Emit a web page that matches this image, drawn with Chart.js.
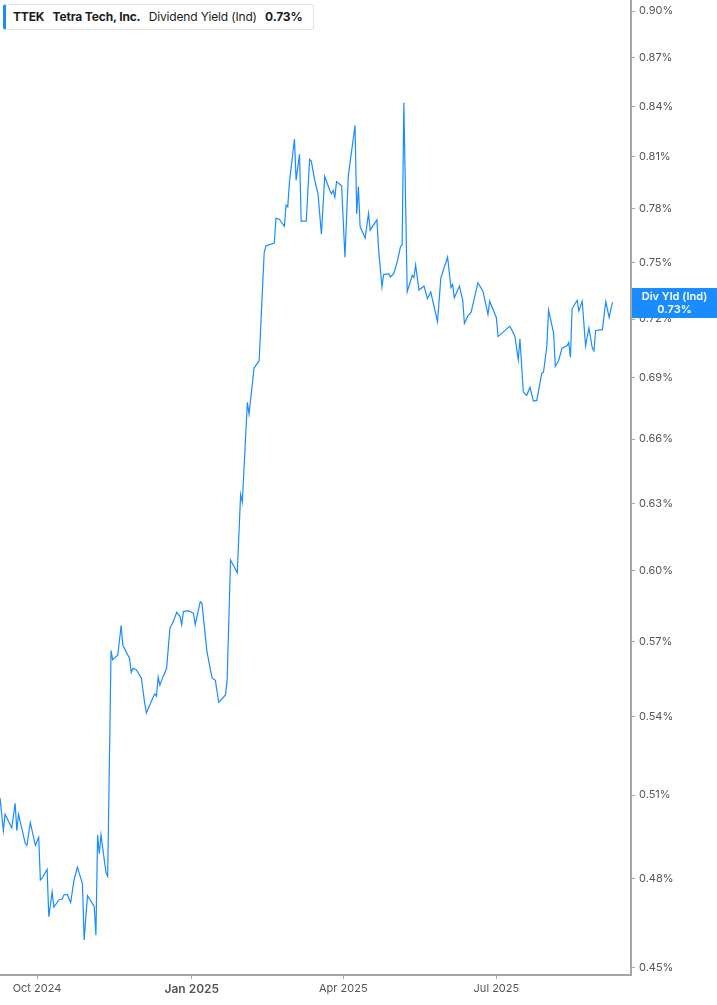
<!DOCTYPE html>
<html>
<head>
<meta charset="utf-8">
<script src="https://cdn.jsdelivr.net/npm/chart.js@4"></script>
<style>
  html, body { margin: 0; padding: 0; background: #fff; }
  #wrap { position: relative; width: 717px; height: 1005px; }
  #legend {
    position: absolute; left: 3px; top: 4px; width: 311px; height: 26px;
    border: 1px solid #e3e3e3; border-left: 3px solid #1a8cff; border-radius: 3px;
    box-sizing: border-box; background: #fff;
    font-family: Inter, "Noto Sans", sans-serif; font-size: 12px; color: #1c1c1c;
    line-height: 24px; padding-left: 7px; white-space: nowrap; letter-spacing: -0.15px;
  }
  #legend b { font-weight: 700; }
  #legend span { margin-right: 5px; }
</style>
</head>
<body>
<div id="wrap">
  <canvas id="myChart" width="717" height="1005"></canvas>
  <div id="legend"><span><b>TTEK</b></span> <span><b>Tetra Tech, Inc.</b></span> <span>Dividend Yield (Ind)</span> <b>0.73%</b></div>
</div>
<script>
const ctx = document.getElementById('myChart');

// x = days since 2024-09-09, y = dividend yield in %
const startDate = Date.UTC(2024, 8, 9);
const days = [
  0, 2, 3, 7, 9, 10, 11, 15, 16, 18, 21, 23, 24, 25, 28, 29, 31, 32, 35, 37,
  38, 40, 42, 44, 46, 49, 50, 52, 56, 57, 58, 59, 60, 63, 64, 66, 67, 70, 72, 73,
  77, 78, 79, 81, 84, 86, 87, 89, 91, 92, 93, 94, 95, 97, 99, 101, 103, 105, 107, 108,
  109, 112, 115, 116, 119, 120, 123, 126, 128, 130, 134, 135, 137, 141, 143, 144, 147, 148, 151, 154,
  157, 158, 163, 164, 166, 169, 170, 171, 172, 175, 176, 178, 179, 182, 184, 185, 187, 189, 191, 193,
  196, 197, 198, 199, 200, 203, 205, 207, 211, 212, 213, 214, 217, 219, 220, 224, 225, 227, 228, 231,
  232, 234, 236, 238, 239, 240, 242, 245, 246, 247, 249, 252, 254, 256, 260, 262, 266, 268, 269, 270,
  273, 275, 276, 278, 280, 284, 287, 290, 291, 295, 296, 303, 306, 308, 309, 311, 313, 315, 317, 319,
  322, 323, 325, 326, 329, 330, 332, 334, 337, 338, 339, 340, 343, 344, 346, 348, 350, 352, 353, 354,
  358, 360, 362, 364
];
const yieldVals = [
  0.509, 0.497, 0.503, 0.498, 0.507, 0.497, 0.503, 0.4925, 0.4918, 0.500, 0.4918, 0.4946, 0.4796, 0.4802, 0.4833, 0.4670, 0.4755, 0.4703, 0.4727, 0.4730,
  0.4745, 0.4746, 0.4718, 0.4796, 0.4841, 0.4783, 0.4592, 0.4742, 0.4705, 0.4608, 0.4955, 0.4888, 0.4955, 0.4821, 0.4809, 0.5663, 0.5625, 0.5645, 0.5767, 0.5685,
  0.5631, 0.5574, 0.5591, 0.5585, 0.5552, 0.5450, 0.5413, 0.5444, 0.5475, 0.5488, 0.5479, 0.5555, 0.5523, 0.5558, 0.5591, 0.5756, 0.5783, 0.5822, 0.5804, 0.5770,
  0.5825, 0.5829, 0.5818, 0.5770, 0.5867, 0.5860, 0.5659, 0.5552, 0.5542, 0.5454, 0.5484, 0.5545, 0.6047, 0.5991, 0.6341, 0.6306, 0.6778, 0.6721, 0.6949, 0.6985,
  0.7554, 0.7592, 0.7608, 0.7745, 0.7740, 0.7700, 0.7820, 0.7810, 0.7948, 0.8203, 0.7962, 0.8113, 0.7729, 0.7729, 0.8083, 0.8073, 0.7962, 0.7884, 0.7656, 0.7983,
  0.7903, 0.7884, 0.7903, 0.7865, 0.7954, 0.7930, 0.7530, 0.7987, 0.8284, 0.7769, 0.7926, 0.7699, 0.7635, 0.7773, 0.7679, 0.7736, 0.7573, 0.7370, 0.7436, 0.7441,
  0.7423, 0.7441, 0.7503, 0.7587, 0.7598, 0.8421, 0.7344, 0.7432, 0.7420, 0.7487, 0.7353, 0.7374, 0.7307, 0.7342, 0.7186, 0.7418, 0.7530, 0.7366, 0.7383, 0.7312,
  0.7374, 0.7300, 0.7177, 0.7215, 0.7236, 0.7392, 0.7347, 0.7224, 0.7294, 0.7207, 0.7109, 0.7163, 0.7111, 0.6991, 0.7098, 0.6829, 0.6813, 0.6853, 0.6785, 0.6788,
  0.6923, 0.6928, 0.7062, 0.7247, 0.7127, 0.6957, 0.6987, 0.7050, 0.7062, 0.7079, 0.7004, 0.7255, 0.7298, 0.7242, 0.7294, 0.7062, 0.7154, 0.7050, 0.7036, 0.7141,
  0.7145, 0.7291, 0.7209, 0.7289
];
const yTicks = [0.45, 0.48, 0.51, 0.54, 0.57, 0.60, 0.63, 0.66, 0.69, 0.72, 0.75, 0.78, 0.81, 0.84, 0.87, 0.90];
const monthTicks = [[2024, 9, 'Oct 2024'], [2025, 0, 'Jan 2025'], [2025, 3, 'Apr 2025'], [2025, 6, 'Jul 2025']];
const lastValue = 0.73;

const lineColor = '#1a8cff';
const axisColor = '#a6a6a6';

function dayOf(y, m) {
  return (Date.UTC(y, m, 1) - startDate) / 864e5;
}

// blue value box on the right axis
const valueBox = {
  id: 'valueBox',
  afterDraw(chart) {
    const c = chart.ctx;
    const ys = chart.scales.y;
    const yc = ys.getPixelForValue(lastValue) + 3;
    const left = chart.chartArea.right + 1;
    c.save();
    c.fillStyle = lineColor;
    c.fillRect(left, yc - 15, chart.width - left, 30);
    c.fillStyle = '#fff';
    c.font = '600 11px Inter, "Noto Sans", sans-serif';
    c.textAlign = 'center';
    c.textBaseline = 'middle';
    const mid = (left + chart.width) / 2;
    c.fillText('Div Yld (Ind)', mid, yc - 6);
    c.fillText(lastValue.toFixed(2) + '%', mid, yc + 7);
    c.restore();
  }
};

new Chart(ctx, {
  type: 'line',
  data: {
    datasets: [{
      data: days.map((d, i) => ({ x: d, y: yieldVals[i] })),
      borderColor: lineColor,
      borderWidth: 1.2,
      pointRadius: 0,
      tension: 0,
      fill: false
    }]
  },
  options: {
    responsive: false,
    animation: false,
    layout: { padding: 0 },
    plugins: {
      legend: { display: false },
      tooltip: { enabled: false }
    },
    scales: {
      x: {
        type: 'linear',
        min: 0,
        max: 375,
        afterBuildTicks: s => { s.ticks = monthTicks.map(m => ({ value: dayOf(m[0], m[1]) })); },
        afterFit: s => { s.height = 30; s.paddingLeft = 0; s.paddingRight = 0; },
        grid: { display: true, drawOnChartArea: false, drawTicks: true, tickLength: 4, color: axisColor },
        border: { display: true, color: axisColor, width: 2 },
        ticks: {
          autoSkip: false,
          maxRotation: 0,
          padding: 3,
          color: '#555',
          callback: (v) => {
            const m = monthTicks.find(t => dayOf(t[0], t[1]) === v);
            return m ? m[2] : '';
          },
          font: c => (c.tick && c.tick.label === 'Jan 2025')
            ? { family: 'Inter, "Noto Sans", sans-serif', size: 12, weight: '600' }
            : { family: 'Inter, "Noto Sans", sans-serif', size: 11 }
        }
      },
      y: {
        type: 'logarithmic',
        position: 'right',
        min: 0.4477,
        max: 0.9072,
        afterBuildTicks: s => { s.ticks = yTicks.map(v => ({ value: v })); },
        afterFit: s => { s.width = 86; s.paddingTop = 0; s.paddingBottom = 0; },
        grid: { display: true, drawOnChartArea: false, drawTicks: true, tickLength: 4, color: axisColor },
        border: { display: true, color: axisColor, width: 2 },
        ticks: {
          autoSkip: false,
          padding: 4,
          color: '#555',
          font: { family: 'Inter, "Noto Sans", sans-serif', size: 11 },
          callback: v => v.toFixed(2) + '%'
        }
      }
    }
  },
  plugins: [valueBox]
});
</script>
</body>
</html>
